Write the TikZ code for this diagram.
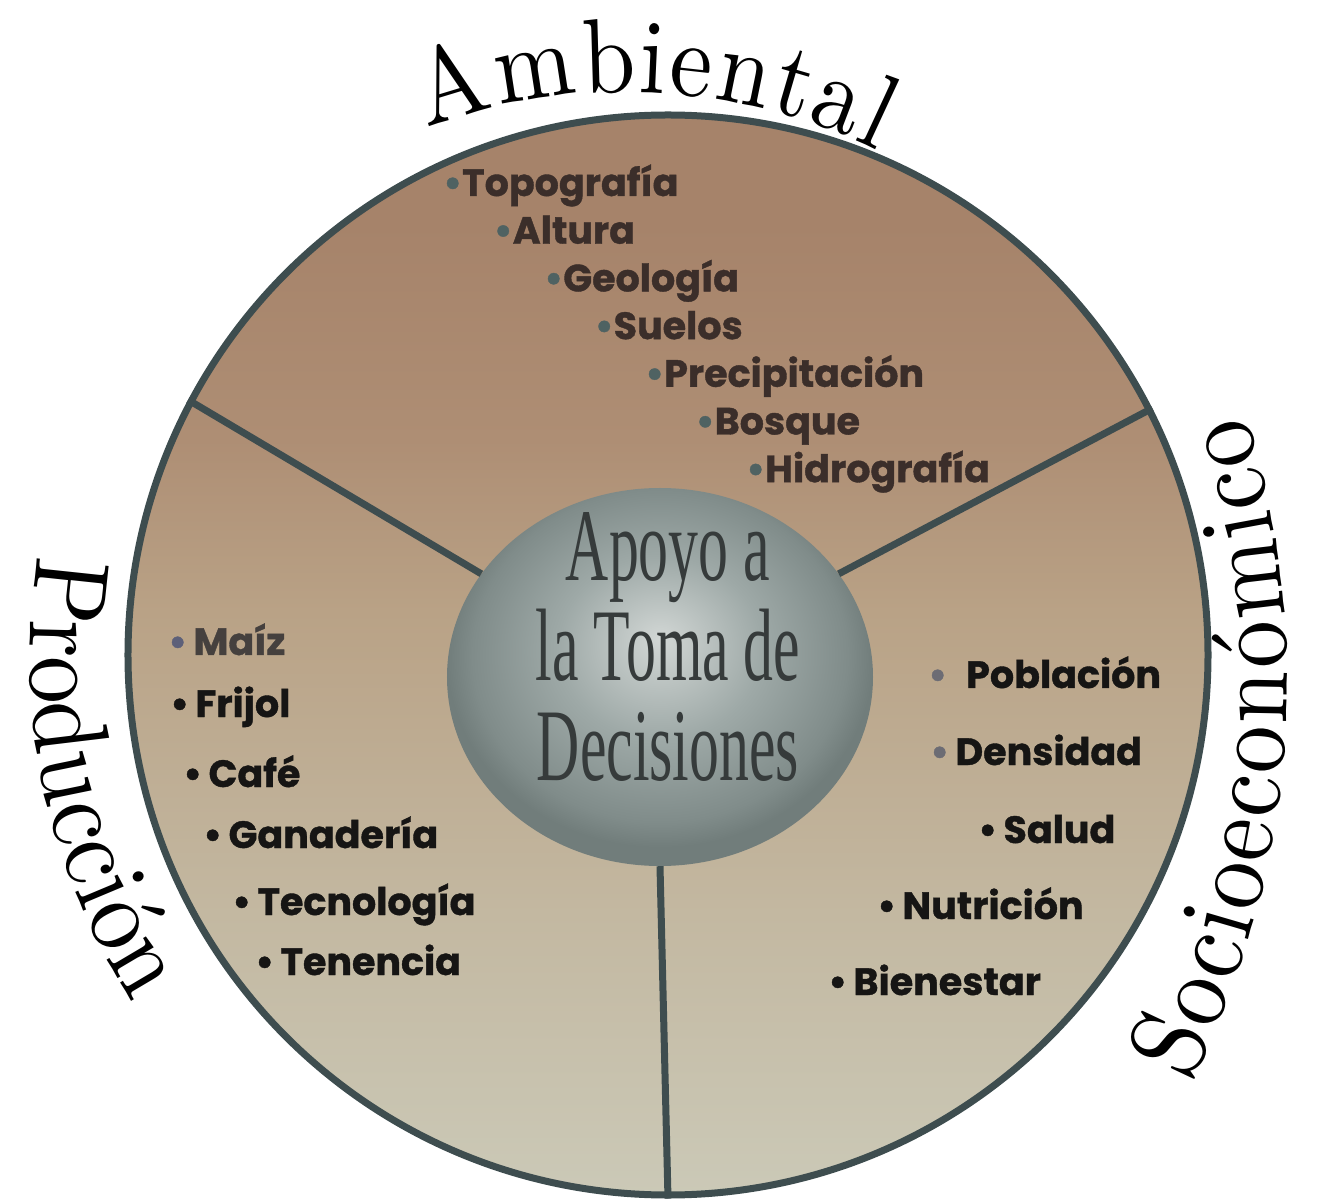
\documentclass[tikz,border=0pt]{standalone}
\usepackage{fontspec}
\newfontfamily\titlefont{Liberation Serif}
\newfontfamily\listfont{Poppins}[BoldFeatures={FakeBold=1}]
\newfontfamily\ringface{lmroman10-regular.otf}[FakeStretch=0.9]
\usetikzlibrary{shapes.geometric,decorations.text}

\definecolor{rim}{HTML}{3E4D4F}
\definecolor{earthtop}{HTML}{A6836A}
\definecolor{earthupper}{HTML}{AE8E74}
\definecolor{earthmid}{HTML}{B9A286}
\definecolor{earthpale}{HTML}{C3B8A1}
\definecolor{earthlow}{HTML}{CBC9B7}
\definecolor{ballhi}{HTML}{D2D7D5}
\definecolor{ballmid}{HTML}{9EA9A7}
\definecolor{balledge}{HTML}{808C8A}
\definecolor{ballrim}{HTML}{717D7B}
\definecolor{titleink}{HTML}{363B3B}
\definecolor{envink}{HTML}{3B2E2A}
\definecolor{envdot}{HTML}{4F6262}
\definecolor{maizink}{HTML}{45403E}
\definecolor{bluedot}{HTML}{5D6079}
\definecolor{greydot}{HTML}{6C6C74}
\definecolor{ink}{HTML}{161514}

\pgfdeclareverticalshading{earth}{100bp}{color(0bp)=(earthlow); color(25bp)=(earthlow);
  color(38bp)=(earthpale); color(52bp)=(earthmid); color(60bp)=(earthupper);
  color(70bp)=(earthtop); color(100bp)=(earthtop)}
\pgfdeclareradialshading{ball}{\pgfpoint{0bp}{5bp}}{color(0bp)=(ballhi);
  color(12bp)=(ballmid); color(22bp)=(balledge); color(25bp)=(ballrim); color(50bp)=(ballrim)}

\newcommand\ringfont{\ringface\fontsize{106}{106}\selectfont}

\tikzset{
  divider/.style={rim, line width=7pt},
  entry/.style={anchor=base west, inner sep=0pt, text=ink,
    font=\listfont\bfseries\fontsize{38}{38}\selectfont},
  ring label/.style={decorate, decoration={text effects along path, text={#1},
    text effects/.cd, text along path, fit text to path,
    characters={anchor=base, font=\ringfont}}},
}

\begin{document}
\begin{tikzpicture}[x=1pt,y=1pt]
  \useasboundingbox (-668,-546) rectangle (653,655);
  % disc and centre
  \node[circle, minimum size=1080pt, draw=rim, line width=7pt,
    shade, shading=earth] (disc) at (0,0) {};
  \node[ellipse, minimum width=426pt, minimum height=378pt, inner sep=0pt,
    shade, shading=ball] (core) at (-8,-22) {};
  \draw[divider] (core.150) -- (disc.152);
  \draw[divider] (core.30) -- (disc.27);
  \draw[divider] (core.270) -- (disc.270);
  \node[titleink, align=center, xscale=0.58, transform shape,
    font=\titlefont\fontsize{103}{100}\selectfont] (title) at (0,8) {Apoyo a\\la Toma de\\Decisiones};

  % curved headings
  \path[shift={(-42,-7)}, ring label=Ambiental]
    (110.5:570) arc[start angle=110.5, end angle=63.8, radius=570];
  \path[ring label=Producción] (171:638) arc[start angle=171, end angle=213, radius=638];
  \path[shift={(-267,-26)}, ring label=Socioeconómico]
    (-27:886) arc[start angle=-27, end angle=17.5, radius=886];

  % ambiental
  \foreach \name [count=\i from 0] in {Topografía, Altura, Geología, Suelos,
      Precipitación, Bosque, Hidrografía}
    \node[entry, text=envink] (env\i) at (-225+50.5*\i, 459-47.7*\i) {{\color{envdot}•}\name};

  % produccion
  \node[entry, text=maizink] (prod0) at (-500,0) {{\color{bluedot}•}\,Maíz};
  \node[entry] (prod1) at (-498,-62) {•\,Frijol};
  \node[entry] (prod2) at (-485,-132) {•\,Café};
  \node[entry] (prod3) at (-465,-193) {•\,Ganadería};
  \node[entry] (prod4) at (-436,-260) {•\,Tecnología};
  \node[entry] (prod5) at (-413,-320) {•\,Tenencia};

  % socioeconomico
  \node[entry] (soc0) at (260,-33) {{\color{greydot}•}\enspace Población};
  \node[entry] (soc1) at (262,-110) {{\color{greydot}•}\,Densidad};
  \node[entry] (soc2) at (310,-188) {•\,Salud};
  \node[entry] (soc3) at (209,-264) {•\,Nutrición};
  \node[entry] (soc4) at (160,-340) {•\,Bienestar};
\end{tikzpicture}
\end{document}
